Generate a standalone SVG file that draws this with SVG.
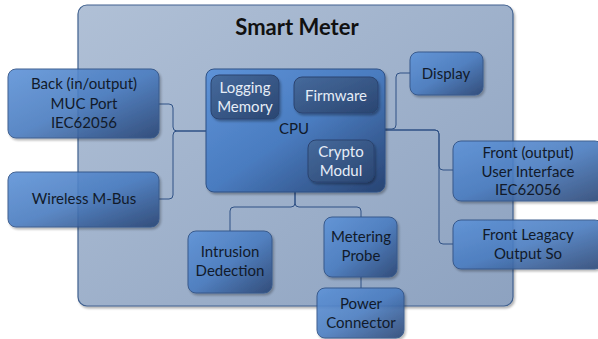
<svg xmlns="http://www.w3.org/2000/svg" width="598" height="339" viewBox="0 0 598 339">
<defs>
<linearGradient id="gBox" x1="0" y1="0" x2="1" y2="1">
<stop offset="0" stop-color="#5e93d8"/>
<stop offset="0.5" stop-color="#4a7cc0"/>
<stop offset="1" stop-color="#284473"/>
</linearGradient>
<linearGradient id="gCont" x1="0" y1="0" x2="1" y2="1">
<stop offset="0" stop-color="#b0c0d6"/>
<stop offset="1" stop-color="#8da2c0"/>
</linearGradient>
<linearGradient id="gInner" x1="0" y1="0" x2="1" y2="1">
<stop offset="0" stop-color="#466a9c"/>
<stop offset="1" stop-color="#2a4672"/>
</linearGradient>
<filter id="sh" x="-10%" y="-10%" width="130%" height="130%">
<feDropShadow dx="1.5" dy="2" stdDeviation="1.2" flood-color="#000" flood-opacity="0.3"/>
</filter>
<style>
.node{fill:url(#gBox);stroke:#2f5185;stroke-width:1;opacity:0.9;filter:url(#sh)}
.inner{fill:url(#gInner);stroke:#2a4470;stroke-width:1;filter:url(#sh)}
.t{font-family:Lato,"Liberation Sans",sans-serif;font-size:15px;fill:#111a2a;text-anchor:middle}
.tw{font-family:Lato,"Liberation Sans",sans-serif;font-size:15px;fill:#e6edf7;text-anchor:middle}
.c{fill:none;stroke:#2f5185;stroke-width:1}
</style>
</defs>
<g id="smart-meter">
<rect x="78" y="5" width="435" height="301" rx="9" fill="url(#gCont)" stroke="#40618f" stroke-width="1.2" filter="url(#sh)"/>
<text x="297" y="35" font-family="Lato,'Liberation Sans',sans-serif" font-size="22" font-weight="bold" fill="#111" text-anchor="middle">Smart Meter</text>
</g>
<g id="connectors">
<path class="c" d="M159,104 H169 Q173,104 173,108 V127 Q173,131 177,131 H206"/>
<path class="c" d="M159,199 H169 Q173,199 173,195 V135 Q173,131 177,131 H206"/>
<path class="c" d="M385,129 H392 Q396,129 396,125 V77 Q396,73 400,73 H410"/>
<path class="c" d="M385,130 H435 Q439,130 439,134 V166 Q439,170 443,170 H453"/>
<path class="c" d="M385,130 H435 Q439,130 439,134 V240 Q439,244 443,244 H453"/>
<path class="c" d="M295,191 V203 Q295,207 291,207 H234 Q230,207 230,211 V231"/>
<path class="c" d="M295,191 V203 Q295,207 299,207 H357 Q361,207 361,211 V217"/>
<path class="c" d="M361,277 V288"/>
</g>
<g id="cpu">
<rect x="206" y="69" width="179" height="123" rx="8" fill="url(#gBox)" stroke="#2f5185" filter="url(#sh)"/>
<text class="t" x="294" y="134">CPU</text>
</g>
<g id="logging-memory">
<rect class="inner" x="211" y="75" width="68" height="44" rx="8"/>
<text class="tw" x="245" y="93">Logging</text>
<text class="tw" x="245" y="112">Memory</text>
</g>
<g id="firmware">
<rect class="inner" x="294" y="77" width="84" height="36" rx="8"/>
<text class="tw" x="336" y="101">Firmware</text>
</g>
<g id="crypto-modul">
<rect class="inner" x="308" y="140" width="66" height="42" rx="8"/>
<text class="tw" x="341" y="157">Crypto</text>
<text class="tw" x="341" y="176">Modul</text>
</g>
<g id="display">
<rect class="node" x="410" y="52" width="73" height="43" rx="8"/>
<text class="t" x="446" y="79">Display</text>
</g>
<g id="back-muc">
<rect class="node" x="8" y="69" width="151" height="69" rx="8"/>
<text class="t" x="84" y="89">Back (in/output)</text>
<text class="t" x="84" y="109">MUC Port</text>
<text class="t" x="84" y="128">IEC62056</text>
</g>
<g id="wireless-mbus">
<rect class="node" x="8" y="172" width="151" height="55" rx="8"/>
<text class="t" x="84" y="204">Wireless M-Bus</text>
</g>
<g id="front-output">
<rect class="node" x="453" y="141" width="150" height="60" rx="8"/>
<text class="t" x="528" y="158">Front (output)</text>
<text class="t" x="528" y="177">User Interface</text>
<text class="t" x="528" y="195">IEC62056</text>
</g>
<g id="front-legacy">
<rect class="node" x="453" y="220" width="150" height="49" rx="8"/>
<text class="t" x="528" y="240">Front Leagacy</text>
<text class="t" x="528" y="259">Output So</text>
</g>
<g id="intrusion">
<rect class="node" x="188" y="231" width="84" height="62" rx="8"/>
<text class="t" x="230" y="257">Intrusion</text>
<text class="t" x="230" y="276">Dedection</text>
</g>
<g id="metering-probe">
<rect class="node" x="324" y="217" width="73" height="60" rx="8"/>
<text class="t" x="361" y="242">Metering</text>
<text class="t" x="361" y="261">Probe</text>
</g>
<g id="power-connector">
<rect class="node" x="317" y="288" width="87" height="50" rx="8"/>
<text class="t" x="361" y="309">Power</text>
<text class="t" x="361" y="328">Connector</text>
</g>
</svg>
